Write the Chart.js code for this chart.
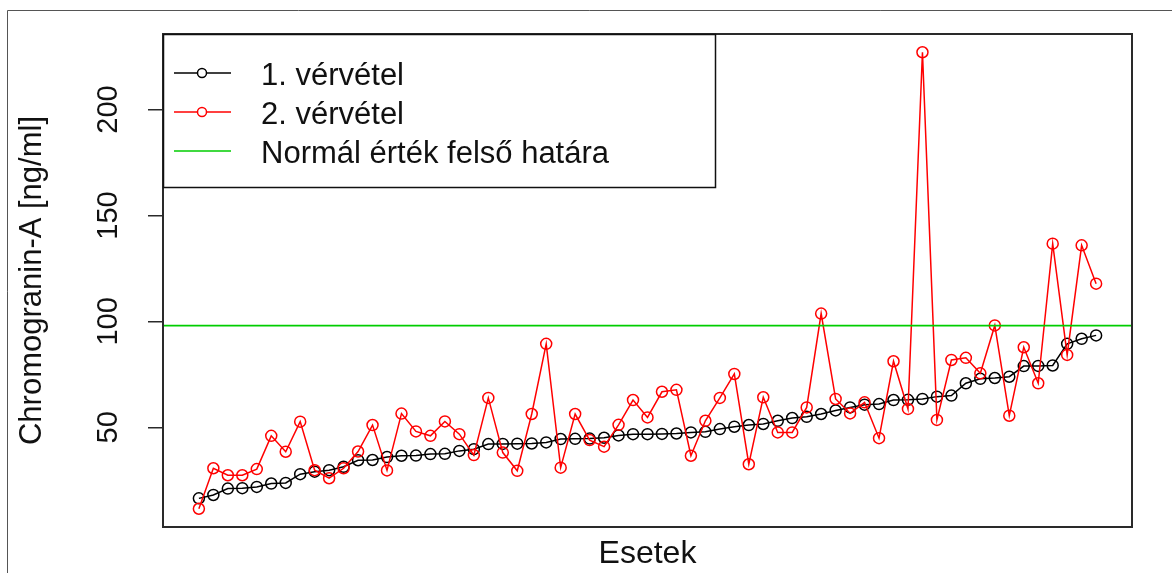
<!DOCTYPE html>
<html>
<head>
<meta charset="utf-8">
<script src="https://cdn.jsdelivr.net/npm/chart.js@4.4.0/dist/chart.umd.min.js"></script>
<style>
html,body{margin:0;padding:0;background:#fff;}
canvas{display:block;}
</style>
</head>
<body>
<canvas id="c" width="1172" height="573"></canvas>
<script>
// ---- data ----
const series1Label = '1. vérvétel';
const series2Label = '2. vérvétel';
const limitLabel = 'Normál érték felső határa';
const xTitle = 'Esetek';
const yTitle = 'Chromogranin-A [ng/ml]';
const yTicks = [50, 100, 150, 200];
const upperLimit = 98;
const sample1 = [
  16.5, 18.1, 21.1, 21.3, 21.9, 23.5, 23.8, 27.9, 29.1, 29.8,
  31.4, 34.5, 34.6, 36.0, 36.6, 36.7, 37.4, 37.5, 38.9, 39.7,
  42.1, 42.2, 42.3, 42.4, 42.9, 44.5, 44.6, 44.7, 45.1, 46.2,
  46.8, 46.8, 46.9, 47.1, 47.6, 47.9, 49.2, 50.3, 51.1, 51.6,
  53.1, 54.4, 55.0, 56.3, 58.0, 59.4, 60.7, 61.0, 62.9, 63.0,
  63.4, 64.5, 65.0, 70.8, 72.9, 73.3, 73.9, 78.9, 79.0, 79.2,
  89.4, 91.8, 93.4
];
const sample2 = [
  11.6, 30.7, 27.4, 27.4, 30.3, 46.0, 38.5, 52.7, 29.8, 26.0,
  30.7, 38.6, 51.1, 29.7, 56.5, 48.1, 46.0, 52.8, 46.8, 36.9,
  63.9, 38.1, 29.5, 56.3, 89.4, 31.0, 56.3, 44.0, 40.9, 51.2,
  62.9, 54.7, 66.8, 67.7, 36.6, 53.1, 63.9, 75.2, 32.6, 64.2,
  47.6, 47.6, 59.4, 103.7, 63.4, 56.6, 61.8, 44.9, 81.2, 58.7,
  227.0, 53.5, 81.8, 82.8, 75.5, 98.1, 55.5, 87.8, 70.8, 136.7,
  84.2, 135.9, 117.8
];
const cases = sample1.map((_, i) => i + 1);

// ---- derived ranges (R-style 4% extension) ----
const n = cases.length;
const xMin = 1 - 0.04 * (n - 1);
const xMax = n + 0.04 * (n - 1);
const allY = sample1.concat(sample2);
const dMin = Math.min(...allY), dMax = Math.max(...allY);
const yMin = dMin - 0.04 * (dMax - dMin);
const yMax = dMax + 0.04 * (dMax - dMin);

const FONT = "'Liberation Sans', Arial, sans-serif";
const GREEN = 'rgb(0,205,0)';
const TEXT = '#111';

const pts = arr => arr.map((v, i) => ({x: cases[i], y: v}));

const decor = {
  id: 'decor',
  beforeDraw(chart) {
    const ctx = chart.ctx;
    ctx.save();
    ctx.fillStyle = '#fff';
    ctx.fillRect(0, 0, chart.width, chart.height);
    ctx.strokeStyle = '#555';
    ctx.lineWidth = 1;
    ctx.beginPath();
    ctx.moveTo(7.5, chart.height);
    ctx.lineTo(7.5, 10.5);
    ctx.lineTo(chart.width, 10.5);
    ctx.stroke();
    ctx.restore();
  },
  afterDraw(chart) {
    const ctx = chart.ctx;
    const a = chart.chartArea;
    const ys = chart.scales.y;
    ctx.save();
    // plot box
    ctx.strokeStyle = '#2a2a2a';
    ctx.lineWidth = 2;
    ctx.strokeRect(a.left, a.top, a.right - a.left, a.bottom - a.top);
    // rotated y tick labels
    ctx.fillStyle = TEXT;
    ctx.font = '29px ' + FONT;
    ctx.textAlign = 'center';
    ctx.textBaseline = 'alphabetic';
    ys.ticks.forEach(t => {
      const y = ys.getPixelForValue(t.value);
      ctx.save();
      ctx.translate(a.left - 46, y);
      ctx.rotate(-Math.PI / 2);
      ctx.fillText(String(t.value), 0, 0);
      ctx.restore();
    });
    // legend
    const lx = a.left, ly = a.top, lw = 552, lh = 153;
    ctx.strokeStyle = '#111';
    ctx.lineWidth = 1.5;
    ctx.strokeRect(lx + 0.5, ly + 0.5, lw, lh);
    const entries = [
      {label: series1Label, color: '#000', point: true},
      {label: series2Label, color: '#f00', point: true},
      {label: limitLabel, color: GREEN, point: false}
    ];
    ctx.font = '31px ' + FONT;
    ctx.textAlign = 'left';
    ctx.textBaseline = 'middle';
    entries.forEach((e, i) => {
      const ry = ly + 39 + i * 39;
      ctx.strokeStyle = e.color;
      ctx.lineWidth = 1.5;
      ctx.beginPath();
      ctx.moveTo(lx + 11, ry);
      ctx.lineTo(lx + 68, ry);
      ctx.stroke();
      if (e.point) {
        ctx.fillStyle = '#fff';
        ctx.beginPath();
        ctx.arc(lx + 39, ry, 4.5, 0, Math.PI * 2);
        ctx.fill();
        ctx.stroke();
      }
      ctx.fillStyle = TEXT;
      ctx.fillText(e.label, lx + 98, ry + 3);
    });
    ctx.restore();
  }
};

new Chart(document.getElementById('c'), {
  type: 'line',
  data: {
    datasets: [
      {
        label: limitLabel,
        data: [{x: xMin, y: upperLimit}, {x: xMax, y: upperLimit}],
        borderColor: GREEN,
        borderWidth: 1.6,
        pointRadius: 0,
        fill: false,
        order: 0
      },
      {
        label: series2Label,
        data: pts(sample2),
        borderColor: '#ff0000',
        borderWidth: 1.5,
        pointRadius: 5.5,
        pointBorderWidth: 1.5,
        pointBorderColor: '#ff0000',
        pointBackgroundColor: 'rgba(0,0,0,0)',
        fill: false,
        tension: 0,
        order: 1
      },
      {
        label: series1Label,
        data: pts(sample1),
        borderColor: '#000',
        borderWidth: 1.5,
        pointRadius: 5.5,
        pointBorderWidth: 1.5,
        pointBorderColor: '#000',
        pointBackgroundColor: 'rgba(0,0,0,0)',
        fill: false,
        tension: 0,
        order: 2
      }
    ]
  },
  options: {
    responsive: false,
    animation: false,
    devicePixelRatio: 1,
    events: [],
    layout: {padding: {left: 0, right: 40, top: 34, bottom: 0}},
    plugins: {legend: {display: false}, tooltip: {enabled: false}},
    scales: {
      x: {
        type: 'linear',
        min: xMin,
        max: xMax,
        ticks: {display: false},
        grid: {display: false},
        border: {display: false},
        title: {display: true, text: xTitle, color: TEXT, font: {family: FONT, size: 32}, padding: {top: 0, bottom: 0}},
        afterFit: s => { s.height = 46; }
      },
      y: {
        type: 'linear',
        min: yMin,
        max: yMax,
        afterBuildTicks: s => { s.ticks = yTicks.map(v => ({value: v})); },
        ticks: {display: false},
        grid: {display: true, drawOnChartArea: false, drawTicks: true, tickLength: 15, color: '#2a2a2a', lineWidth: 1.5},
        border: {display: false},
        title: {display: true, text: yTitle, color: TEXT, font: {family: FONT, size: 31}, padding: {top: 14, bottom: 0}},
        afterFit: s => { s.width = 163; }
      }
    }
  },
  plugins: [decor]
});
</script>
</body>
</html>
